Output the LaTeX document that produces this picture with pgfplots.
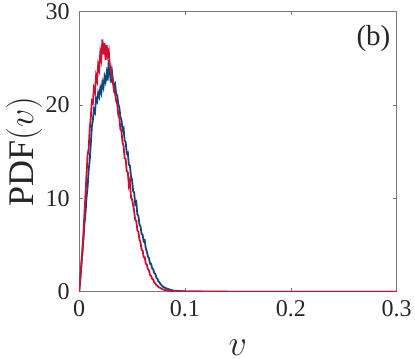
\documentclass[border=0pt]{standalone}
\usepackage{fix-cm}
\usepackage{fontspec}
\setmainfont{Liberation Serif}
\usepackage{pgfplots}
\pgfplotsset{compat=1.18}
\definecolor{cblue}{RGB}{16,70,128}
\definecolor{cred}{RGB}{204,16,52}
\definecolor{axgray}{RGB}{120,120,120}

\pgfplotstableread{
x y
0.000 0
0.001 1.2
0.002 2.6
0.003 4.0
0.004 5.5
0.005 7.2
0.006 8.4
0.007 10.1
0.008 11.2
0.009 13.0
0.010 14.1
0.011 15.8
0.012 17.6
0.013 18.4
0.014 19.5
0.015 19.2
0.016 20.7
0.017 20.4
0.018 21.3
0.019 20.9
0.020 21.8
0.021 21.3
0.022 22.4
0.023 21.9
0.024 23.0
0.025 22.5
0.026 23.4
0.027 22.6
0.028 24.8
0.029 23.5
0.030 22.4
0.031 23.6
0.032 22.6
0.033 21.9
0.034 22.2
0.035 21.2
0.036 21.0
0.037 20.1
0.038 19.7
0.039 18.7
0.040 18.4
0.041 17.3
0.042 17.5
0.043 16.2
0.044 16.0
0.045 14.8
0.046 14.9
0.047 13.6
0.048 13.5
0.049 12.3
0.050 12.0
0.051 10.8
0.052 10.6
0.053 9.4
0.054 9.6
0.055 8.3
0.056 8.1
0.057 7.2
0.058 7.0
0.059 6.2
0.060 6.1
0.061 5.4
0.062 5.5
0.063 4.6
0.064 4.3
0.065 3.8
0.066 3.6
0.067 3.0
0.068 3.0
0.069 2.5
0.070 2.4
0.071 2.0
0.072 1.9
0.073 1.5
0.074 1.4
0.075 1.1
0.076 1.0
0.077 0.8
0.078 0.7
0.079 0.55
0.080 0.5
0.082 0.38
0.084 0.30
0.086 0.22
0.088 0.16
0.090 0.12
0.095 0.07
0.100 0.04
0.110 0.02
0.120 0.01
0.150 0.01
0.200 0.0
0.300 0.0
}\blue

\pgfplotstableread{
x y
0.000 0
0.001 1.3
0.002 2.9
0.003 4.4
0.004 6.1
0.005 8.3
0.006 10.4
0.007 12.6
0.008 14.6
0.009 15.3
0.010 17.4
0.011 18.6
0.012 20.4
0.013 20.2
0.014 21.8
0.015 21.4
0.016 23.1
0.017 22.6
0.018 24.3
0.019 23.8
0.020 25.6
0.021 24.9
0.022 27.0
0.023 25.4
0.024 26.6
0.025 24.8
0.026 26.4
0.027 25.3
0.028 25.8
0.029 24.2
0.030 23.9
0.031 22.8
0.032 22.4
0.033 21.4
0.034 21.2
0.035 20.4
0.036 20.1
0.037 18.9
0.038 18.6
0.039 17.4
0.040 17.2
0.041 16.0
0.042 15.6
0.043 14.3
0.044 14.2
0.045 12.9
0.046 12.8
0.047 11.4
0.048 11.9
0.049 10.1
0.050 9.9
0.051 9.3
0.052 8.6
0.053 7.7
0.054 7.6
0.055 6.6
0.056 6.4
0.057 5.6
0.058 5.3
0.059 4.5
0.060 4.4
0.061 3.7
0.062 3.7
0.063 3.0
0.064 2.9
0.065 2.4
0.066 2.3
0.067 1.8
0.068 1.7
0.069 1.4
0.070 1.3
0.071 1.0
0.072 0.9
0.073 0.7
0.074 0.65
0.075 0.5
0.076 0.45
0.078 0.32
0.080 0.22
0.084 0.13
0.088 0.08
0.095 0.05
0.100 0.03
0.150 0.01
0.300 0.0
}\red

\begin{document}
\begin{tikzpicture}
\begin{axis}[
  scale only axis, width=316bp, height=279bp,
  xmin=0, xmax=0.3, ymin=0, ymax=30,
  xtick={0,0.1,0.2,0.3}, ytick={0,10,20,30},
  tick align=inside, major tick length=4bp,
  axis line style={axgray, line width=0.6pt},
  every tick/.style={axgray, line width=0.6pt},
  /pgf/number format/assume math mode=true,
  xticklabel style={/pgf/number format/fixed, /pgf/number format/precision=1, yshift=-5bp},
  yticklabel style={xshift=-6bp},
  tick label style={font=\fontsize{24}{26}\selectfont, text=black!85},
  xlabel={$v$}, ylabel={PDF$(v)$},
  label style={font=\fontsize{36}{40}\selectfont, text=black!85},
  xlabel style={yshift=-16bp},
  ylabel style={yshift=-6bp, inner ysep=6bp},
  clip=true,
]
\addplot[cblue, line width=1.8pt] table[x=x,y=y] {\blue};
\addplot[cred, line width=1.8pt] table[x=x,y=y] {\red};
\node[font=\fontsize{29}{32}\selectfont, text=black!85] at (rel axis cs:0.927,0.903) {(b)};
\end{axis}
\end{tikzpicture}
\end{document}
